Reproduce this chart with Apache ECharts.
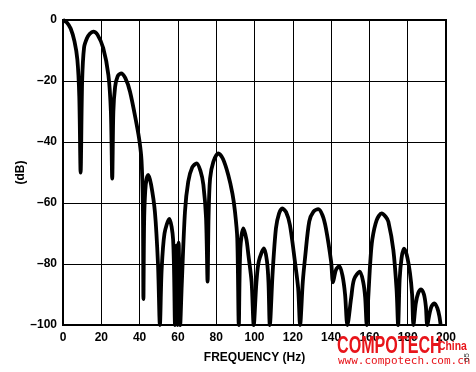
<!DOCTYPE html>
<html>
<head>
<meta charset="utf-8">
<script src="https://cdn.jsdelivr.net/npm/echarts@6/dist/echarts.min.js"></script>
<style>
  html, body { margin: 0; padding: 0; background: #fff; }
  #chart { width: 476px; height: 372px; }
</style>
</head>
<body>
<div id="chart"></div>
<script>
// 频率 (Hz)
const freqHz = [
  0, 2, 4, 6, 7.5, 8.5, 9.2, 10, 11, 12.5, 14, 15.8, 18, 21, 23.7, 25, 25.7, 26.3, 27.2, 28.5,
  30.3, 32.5, 35, 38.5, 40, 41, 41.7, 42, 42.4, 43.2, 44.5, 46, 48, 49.6, 50.6, 51.5, 53, 55.5, 57.5, 58.5,
  59.2, 59.8, 60.4, 61.2, 62, 63.7, 65.4, 67.5, 69.8, 71.8, 73.3, 74.7, 75.5, 76, 76.8, 78.5, 81.1, 83.5, 86.3, 88.5,
  89.8, 91, 91.8, 92.6, 94.2, 95.8, 96.8, 98.5, 99.6, 101, 102.3, 105, 106.5, 107.3, 108, 109.5, 111.2, 112.8, 114.5, 116.5,
  118.5, 121.1, 122.8, 123.8, 125.2, 126.4, 128.6, 130.8, 133.3, 135.5, 137.3, 140, 141, 142.5, 144.3, 146, 147.3, 148.5, 150.5, 152,
  155, 156.8, 157.8, 158.6, 159.5, 160.5, 161.5, 163.8, 166.4, 168.5, 169.9, 172.5, 174.2, 175, 175.8, 176.8, 178, 179.5, 181.2, 182.3,
  183, 184.2, 185.5, 187, 188.5, 189.5, 190.2, 191.5, 192.5, 194, 195.5, 196.5, 197.2
];
// 幅度 (dB)
const levelDb = [
  0, -0.8, -2.8, -7, -13, -25, -50, -20, -9, -6, -4.5, -3.8, -4.8, -9.2, -18, -30, -52, -30, -22, -18.5,
  -17.5, -19, -23.5, -34.4, -40, -46, -60, -91.5, -65, -54, -50.8, -54, -63, -80, -100, -82, -70, -65.2, -72, -100,
  -74, -100, -73, -100, -87, -62.8, -53, -48.3, -47, -49.5, -54, -65, -85.8, -65, -52, -46.5, -43.7, -45.5, -50.8, -57,
  -62.8, -71.5, -100, -75, -68.3, -72, -77, -86, -100, -86, -79, -74.9, -79, -86, -100, -82.5, -68.3, -63.5, -61.8, -63,
  -67.2, -79.2, -88, -100, -86, -78, -66, -62.8, -62, -64, -68.3, -79.2, -86, -82, -80.7, -84, -90, -100, -91, -85,
  -82.5, -86, -91, -100, -90, -79, -72, -65.6, -63.4, -64.5, -66.1, -75.4, -88.5, -100, -85, -78, -75, -77, -83, -90,
  -100, -93, -89.5, -88.3, -90, -94, -100, -96, -93.8, -92.9, -94.5, -97, -100
];
// 坐标轴
const xMin = 0, xMax = 200, xStep = 20;
const yMin = -100, yMax = 0, yStep = 20;

const labelFont = { color: '#000', fontWeight: 'bold', fontSize: 12, fontFamily: 'Liberation Sans, Arial, sans-serif' };

let myChart = echarts.init(document.getElementById('chart'));
let points = freqHz.map(function (f, i) { return [f, levelDb[i]]; });

let option = {
  animation: false,
  backgroundColor: '#fff',
  grid: { left: 63, right: 30, top: 20, bottom: 47, show: true, borderColor: '#000', borderWidth: 2 },
  xAxis: {
    type: 'value', min: xMin, max: xMax, interval: xStep,
    name: 'FREQUENCY (Hz)', nameLocation: 'middle', nameGap: 27,
    nameTextStyle: labelFont,
    axisLine: { lineStyle: { color: '#000', width: 2 } },
    axisTick: { show: false },
    axisLabel: Object.assign({ margin: 7 }, labelFont),
    splitLine: { lineStyle: { color: '#000', width: 1 } }
  },
  yAxis: {
    type: 'value', min: yMin, max: yMax, interval: yStep,
    name: '(dB)', nameLocation: 'middle', nameGap: 36, nameRotate: 90,
    nameMoveOverlap: false,
    nameTextStyle: labelFont,
    axisLine: { show: true, lineStyle: { color: '#000', width: 2 } },
    axisTick: { show: false },
    axisLabel: Object.assign({ margin: 6, formatter: function (v) { return String(v).replace('-', '\u2013'); } }, labelFont),
    splitLine: { lineStyle: { color: '#000', width: 1 } }
  },
  series: [{
    type: 'line',
    data: points,
    symbol: 'none',
    smooth: 0.3,
    clip: true,
    lineStyle: { color: '#000', width: 3.8 },
    z: 5
  }],
  graphic: [
    { type: 'text', x: 337, y: 335, scaleX: 0.7, z: 100,
      style: { text: 'COMPOTECH', fill: '#e8141a', font: 'bold 23px "Liberation Sans", sans-serif' } },
    { type: 'text', x: 438, y: 340, scaleX: 0.8, z: 100,
      style: { text: 'China', fill: '#e8141a', font: 'bold 13px "Liberation Sans", sans-serif' } },
    { type: 'text', x: 338, y: 356, z: 100,
      style: { text: 'www.compotech.com.cn', fill: '#e8141a', font: '11px "DejaVu Sans Mono", monospace' } },
    { type: 'text', x: 463, y: 362, rotation: Math.PI / 2, z: 100,
      style: { text: '05', fill: '#333', font: '8px "Liberation Sans", sans-serif' } }
  ]
};

myChart.setOption(option);
</script>
</body>
</html>
